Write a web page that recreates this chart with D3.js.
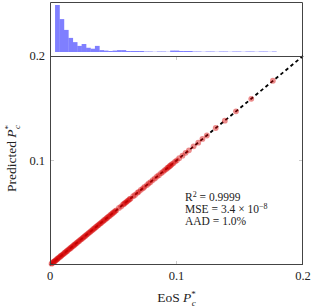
<!DOCTYPE html>
<html>
<head>
<meta charset="utf-8">
<script src="https://cdn.jsdelivr.net/npm/d3@7"></script>
<style>
  body { margin: 0; background: #fff; }
  text { font-family: "Liberation Serif", "DejaVu Serif", serif; fill: #222; }
</style>
</head>
<body>
<div id="canvas"></div>
<script>
// EoS vs predicted P*_c
const eosVals = [
  0.0012, 0.0019, 0.0026, 0.0031, 0.0038, 0.0044, 0.0051, 0.0057, 0.0063, 0.0070,
  0.0078, 0.0085, 0.0091, 0.0099, 0.0106, 0.0114, 0.0121, 0.0129, 0.0136, 0.0144,
  0.0152, 0.0160, 0.0167, 0.0175, 0.0183, 0.0191, 0.0198, 0.0206, 0.0214, 0.0223,
  0.0231, 0.0240, 0.0248, 0.0257, 0.0265, 0.0273, 0.0282, 0.0290, 0.0299, 0.0307,
  0.0316, 0.0324, 0.0333, 0.0341, 0.0350, 0.0358, 0.0367, 0.0376, 0.0384, 0.0393,
  0.0401, 0.0410, 0.0419, 0.0427, 0.0436, 0.0445, 0.0453, 0.0462, 0.0471, 0.0480,
  0.0489, 0.0497, 0.0506, 0.0515, 0.0524, 0.0545, 0.0562, 0.0578, 0.0586, 0.0594,
  0.0603, 0.0611, 0.0620, 0.0629, 0.0637, 0.0658, 0.0672, 0.0690, 0.0701, 0.0718,
  0.0735, 0.0747, 0.0766, 0.0780, 0.0795, 0.0812, 0.0829, 0.0846, 0.0861, 0.0878,
  0.0893, 0.0905, 0.0917, 0.0928, 0.0936, 0.0945, 0.0953, 0.0962, 0.0974, 0.0989,
  0.1003, 0.1021, 0.1047, 0.1072, 0.1098, 0.1135, 0.1172, 0.1205, 0.1240, 0.1310,
  0.1382, 0.1470, 0.1591, 0.1762
];
const predVals = [
  0.0013, 0.0018, 0.0027, 0.0032, 0.0037, 0.0045, 0.0050, 0.0058, 0.0062, 0.0071,
  0.0077, 0.0086, 0.0090, 0.0100, 0.0105, 0.0115, 0.0120, 0.0130, 0.0135, 0.0145,
  0.0151, 0.0161, 0.0166, 0.0176, 0.0182, 0.0192, 0.0197, 0.0207, 0.0213, 0.0224,
  0.0230, 0.0241, 0.0247, 0.0258, 0.0264, 0.0274, 0.0281, 0.0291, 0.0298, 0.0308,
  0.0315, 0.0325, 0.0332, 0.0342, 0.0349, 0.0359, 0.0366, 0.0377, 0.0383, 0.0394,
  0.0400, 0.0411, 0.0418, 0.0428, 0.0435, 0.0446, 0.0452, 0.0463, 0.0470, 0.0481,
  0.0488, 0.0498, 0.0505, 0.0516, 0.0523, 0.0546, 0.0561, 0.0579, 0.0585, 0.0595,
  0.0602, 0.0612, 0.0619, 0.0630, 0.0636, 0.0659, 0.0671, 0.0691, 0.0700, 0.0719,
  0.0734, 0.0748, 0.0765, 0.0781, 0.0794, 0.0813, 0.0828, 0.0847, 0.0860, 0.0879,
  0.0892, 0.0906, 0.0916, 0.0929, 0.0935, 0.0946, 0.0952, 0.0963, 0.0973, 0.0990,
  0.1002, 0.1022, 0.1046, 0.1073, 0.1097, 0.1136, 0.1171, 0.1206, 0.1239, 0.1311,
  0.1381, 0.1471, 0.1590, 0.1763
];

// histogram of EoS values (top panel)
const histStart = 0.004;
const histBinWidth = 0.0035;
const histCounts = [
  100, 70, 47, 30, 21, 13, 17, 9, 7, 13,
  4, 3, 2, 3, 4, 4, 2, 1, 1, 1,
  0.5, 0.5, 0, 0.5, 0.5, 0, 3, 3, 2, 2,
  1, 0.5, 0.5, 0, 0.5, 0.5, 0, 0.5, 0.5, 0,
  0.5, 0.5, 0, 0.5, 0.5, 0, 0.5, 0.5, 0, 0.5
];

const xTicks = [0, 0.1, 0.2];
const yTicks = [0.1, 0.2];
const statLines = [
  ["R", "2", " = 0.9999"],
  ["MSE = 3.4 × 10", "−8", ""],
  ["AAD = 1.0%", "", ""]
];

const W = 317, H = 307;
const plot = {left: 50, right: 303, top: 56, bottom: 265};
const hist = {top: 2, base: 52};

let svg = d3.select("#canvas").append("svg")
  .attr("width", W).attr("height", H);

let x = d3.scaleLinear().domain([0, 0.2]).range([plot.left, plot.right]);
let y = d3.scaleLinear().domain([0, 0.2]).range([plot.bottom, plot.top]);
let hy = d3.scaleLinear().domain([0, 100]).range([hist.base, 5]);

// --- histogram panel
let bins = histCounts.map((c, i) => ({x0: histStart + i * histBinWidth, x1: histStart + (i + 1) * histBinWidth, c: c}));

// bar baseline (empty / tiny bins)
svg.append("line")
  .attr("x1", x(histStart)).attr("x2", x(histStart + histCounts.length * histBinWidth))
  .attr("y1", hist.base - 0.5).attr("y2", hist.base - 0.5)
  .attr("stroke", "#e4e4ff").attr("stroke-width", 1.2);

svg.append("g").selectAll("rect")
  .data(bins.filter(d => d.c > 0))
  .enter().append("rect")
  .attr("x", d => x(d.x0))
  .attr("width", d => x(d.x1) - x(d.x0) + 0.3)
  .attr("y", d => Math.min(hy(d.c), hist.base - 1))
  .attr("height", d => Math.max(hist.base - hy(d.c), 1))
  .attr("fill", "#7f7fff")
  .attr("fill-opacity", d => d.c >= 1 ? 1 : 0.35);

svg.append("path")
  .attr("d", `M${plot.left + 0.5},${plot.top}V${hist.top + 0.5}H${plot.right - 0.5}V${plot.top}`)
  .attr("fill", "none").attr("stroke", "#444").attr("stroke-width", 1);

// --- main panel
// inner ticks (light gray)
let tk = svg.append("g").attr("stroke", "#ccc").attr("stroke-width", 1);
xTicks.filter(t => t > 0 && t < 0.2).forEach(t => {
  tk.append("line").attr("x1", x(t)).attr("x2", x(t)).attr("y1", plot.bottom).attr("y2", plot.bottom - 4);
  tk.append("line").attr("x1", x(t)).attr("x2", x(t)).attr("y1", plot.top).attr("y2", plot.top + 4);
});
yTicks.filter(t => t < 0.2).forEach(t => {
  tk.append("line").attr("y1", y(t)).attr("y2", y(t)).attr("x1", plot.left).attr("x2", plot.left + 4);
  tk.append("line").attr("y1", y(t)).attr("y2", y(t)).attr("x1", plot.right).attr("x2", plot.right - 4);
});

// parity line
svg.append("line")
  .attr("x1", x(0)).attr("y1", y(0)).attr("x2", x(0.2)).attr("y2", y(0.2))
  .attr("stroke", "#000").attr("stroke-width", 1.8)
  .attr("stroke-dasharray", "3.5,3");

// points
svg.append("g").selectAll("circle")
  .data(eosVals.map((e, i) => [e, predVals[i]]))
  .enter().append("circle")
  .attr("cx", d => x(d[0]))
  .attr("cy", d => y(d[1]))
  .attr("r", 2.9)
  .attr("fill", "#d40000")
  .attr("fill-opacity", 0.45);

// frame
svg.append("rect")
  .attr("x", plot.left + 0.5).attr("y", plot.top + 0.5)
  .attr("width", plot.right - plot.left - 1).attr("height", plot.bottom - plot.top - 1)
  .attr("fill", "none").attr("stroke", "#444").attr("stroke-width", 1);

// tick labels
svg.append("g").selectAll("text")
  .data(xTicks)
  .enter().append("text")
  .attr("x", d => x(d)).attr("y", plot.bottom + 15)
  .attr("text-anchor", "middle").attr("font-size", 12.5)
  .text(d => d === 0 ? "0" : d3.format(".1f")(d));

svg.append("g").selectAll("text")
  .data(yTicks)
  .enter().append("text")
  .attr("x", plot.left - 5).attr("y", d => y(d) + 4)
  .attr("text-anchor", "end").attr("font-size", 12.5)
  .text(d => d3.format(".1f")(d));

// axis labels
let xl = svg.append("text")
  .attr("x", x(0.1)).attr("y", 302)
  .attr("text-anchor", "middle").attr("font-size", 13.5);
xl.append("tspan").text("EoS ");
xl.append("tspan").attr("font-style", "italic").text("P");
xl.append("tspan").attr("font-size", 9).attr("dy", -5).attr("dx", 0).text("*");
xl.append("tspan").attr("font-size", 9).attr("font-style", "italic").attr("dy", 8.5).attr("dx", -4).text("c");

let yl = svg.append("text")
  .attr("transform", `translate(16,${y(0.1) - 2}) rotate(-90)`)
  .attr("text-anchor", "middle").attr("font-size", 13.5);
yl.append("tspan").text("Predicted ");
yl.append("tspan").attr("font-style", "italic").text("P");
yl.append("tspan").attr("font-size", 9).attr("dy", -5).attr("dx", 0).text("*");
yl.append("tspan").attr("font-size", 9).attr("font-style", "italic").attr("dy", 8.5).attr("dx", -4).text("c");

// stats
let st = svg.append("g");
statLines.forEach((l, i) => {
  let t = st.append("text").attr("x", 185).attr("y", 201 + i * 12).attr("font-size", 11.5);
  t.append("tspan").text(l[0]);
  if (l[1]) t.append("tspan").attr("font-size", 8).attr("dy", -4).text(l[1]);
  if (l[2]) t.append("tspan").attr("dy", 4).text(l[2]);
});
</script>
</body>
</html>
